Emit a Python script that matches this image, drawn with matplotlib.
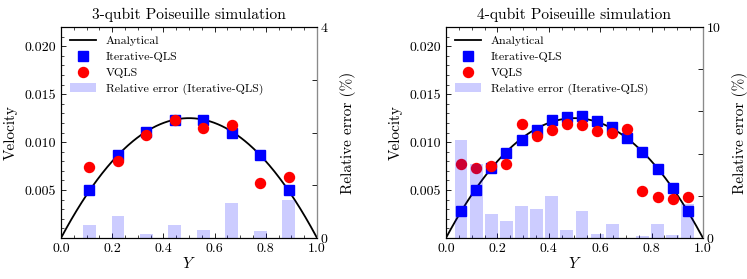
#!/usr/bin/env python3

# Poiseuille flow: Iterative-QLS and VQLS against the analytical profile

import numpy as np
import matplotlib
matplotlib.use("Agg")
import matplotlib.pyplot as plt
from matplotlib.ticker import MultipleLocator, FixedLocator

# 3-qubit data (8 interior points)
y3 = np.arange(1, 9) / 9
iqls3 = [0.00500, 0.00866, 0.01107, 0.01228, 0.01234, 0.01097, 0.00866, 0.00500]
vqls3 = [0.00741, 0.00803, 0.01069, 0.01228, 0.01148, 0.01183, 0.00576, 0.00638]
err3 = [0.24, 0.41, 0.07, 0.24, 0.145, 0.66, 0.126, 0.72]

# 4-qubit data (16 interior points)
y4 = np.arange(1, 17) / 17
iqls4 = [0.00286, 0.00503, 0.00734, 0.00890, 0.01021, 0.01124, 0.01234, 0.01262,
         0.01269, 0.01217, 0.01155, 0.01038, 0.00897, 0.00724, 0.00521, 0.00286]
vqls4 = [0.00776, 0.00728, 0.00752, 0.00776, 0.01190, 0.01066, 0.01131, 0.01190,
         0.01183, 0.01114, 0.01097, 0.01141, 0.00486, 0.00431, 0.00407, 0.00431]
err4 = [4.63, 3.49, 1.15, 0.79, 1.50, 1.39, 1.97, 0.36,
        1.30, 0.17, 0.65, 0.02, 0.11, 0.66, 0.14, 1.60]

## matplotlib settings
plt.rcParams["font.family"] = "serif"
plt.rcParams["font.serif"] = ["cmr10"]
plt.rcParams["mathtext.fontset"] = "cm"
plt.rcParams["axes.formatter.use_mathtext"] = True
plt.rcParams["axes.unicode_minus"] = False
plt.rcParams["font.size"] = 10
## END MPL settings


def analytical(y):
    return 0.05 * y * (1 - y)


def make_panel(fig, rect, y, iqls, vqls, err, err_max, title):
    ax = fig.add_axes(rect)
    yy = np.linspace(0, 1, 200)
    ax.plot(yy, analytical(yy), color="black", lw=1.3, label="Analytical")
    ax.plot(y, iqls, "s", color="blue", ms=7, label="Iterative-QLS")
    ax.plot(y, vqls, "o", color="red", ms=7.2, label="VQLS")
    ax.set_xlim(0, 1)
    ax.set_ylim(0, 0.022)
    ax.xaxis.set_major_locator(MultipleLocator(0.2))
    ax.xaxis.set_minor_locator(MultipleLocator(0.05))
    ax.yaxis.set_major_locator(FixedLocator([0.005, 0.010, 0.015, 0.020]))
    ax.yaxis.set_minor_locator(MultipleLocator(0.001))
    ax.yaxis.set_major_formatter("{x:.3f}")
    ax.xaxis.set_major_formatter("{x:.1f}")
    ax.tick_params(which="both", direction="in", top=True, right=False)
    ax.tick_params(which="major", length=3.5, width=0.6)
    ax.tick_params(which="minor", length=2, width=0.5)
    ax.set_xlabel("$Y$", fontsize=11, labelpad=1)
    ax.set_ylabel("Velocity", fontsize=11, labelpad=5)
    ax.set_title(title, fontsize=11.2, pad=6)

    ax2 = ax.twinx()
    ax2.bar(y, err, width=0.05, color="blue", alpha=0.2,
            label="Relative error (Iterative-QLS)")
    ax2.set_ylim(0, err_max)
    ax2.set_yticks([0, err_max])
    ax2.yaxis.set_minor_locator(MultipleLocator(err_max / (4 if err_max == 4 else 5)))
    ax2.tick_params(which="both", direction="in", pad=2)
    ax2.tick_params(which="major", length=0)
    ax2.tick_params(which="minor", length=3.5, width=0.6)
    ax2.spines["right"].set_color("#8a8a8a")
    ax2.set_ylabel("Relative error (%)", fontsize=11, labelpad=8)

    h1, l1 = ax.get_legend_handles_labels()
    h2, l2 = ax2.get_legend_handles_labels()
    ax2.legend(h1 + h2, l1 + l2, loc="upper left", frameon=False, fontsize=8.6,
               handlelength=2.2, borderaxespad=0.35, labelspacing=0.45)
    return ax, ax2


fig = plt.figure(figsize=(7.47, 2.79), dpi=100)
make_panel(fig, [0.0817, 0.147, 0.3427, 0.756], y3, iqls3, vqls3, err3, 4,
           "3-qubit Poiseuille simulation")
make_panel(fig, [0.597, 0.147, 0.344, 0.756], y4, iqls4, vqls4, err4, 10,
           "4-qubit Poiseuille simulation")

fig.savefig("out.png", dpi=100)
